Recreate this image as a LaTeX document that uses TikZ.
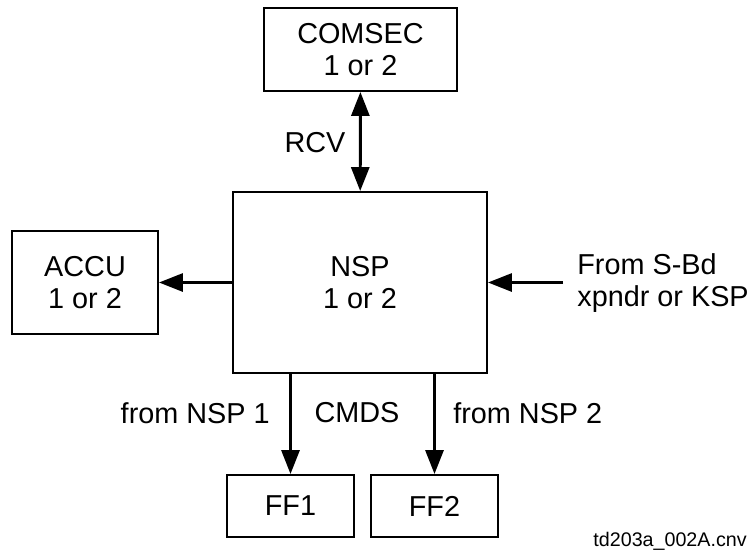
\documentclass[tikz,border=0pt]{standalone}
\usepackage{fontspec}
\setmainfont{Liberation Sans}
\usetikzlibrary{arrows.meta}

\begin{document}
\begin{tikzpicture}[
  x=0.02cm,y=-0.02cm,
  unit/.style={draw,line width=1.1pt,align=center,inner sep=0pt,
    font=\fontsize{16.4}{18.2}\selectfont},
  link/.style={line width=1.7pt,-{Triangle[length=0.48cm,width=0.36cm]}},
  lbl/.style={align=left,inner sep=0pt,font=\fontsize{16.4}{18.2}\selectfont}
]
\useasboundingbox (0,0) rectangle (750,552);

\node[unit,minimum width=3.86cm,minimum height=1.66cm] (comsec) at (360.5,49.5) {COMSEC\\1 or 2};
\node[unit,minimum width=5.08cm,minimum height=3.62cm] (nsp) at (360,282.5) {NSP\\1 or 2};
\node[unit,minimum width=2.92cm,minimum height=2.06cm] (accu) at (85,282.5) {ACCU\\1 or 2};
\node[unit,minimum width=2.54cm,minimum height=1.24cm] (ff1) at (290.5,506) {FF1};
\node[unit,minimum width=2.54cm,minimum height=1.24cm] (ff2) at (434.5,506) {FF2};

\coordinate (src) at (563,282.5);

\draw[link,{Triangle[length=0.48cm,width=0.36cm]}-{Triangle[length=0.48cm,width=0.36cm]}] (comsec)--(nsp);
\draw[link] (nsp)--(accu);
\draw[link] (src)--(nsp);
\draw[link] (nsp.south -| ff1)--(ff1);
\draw[link] (nsp.south -| ff2)--(ff2);

\node[lbl] (rcv) at (315,143) {RCV};
\node[lbl,anchor=west] (sbd) at (577,283) {From S-Bd\\xpndr or KSP};
\node[lbl,anchor=east] (from1) at (270,413) {from NSP 1};
\node[lbl] (cmds) at (357,413) {CMDS};
\node[lbl,anchor=west] (from2) at (453,413) {from NSP 2};
\node[inner sep=0pt,anchor=east,font=\fontsize{11.2}{13}\selectfont] (fname) at (747,541) {td203a\_002A.cnv};
\end{tikzpicture}
\end{document}
